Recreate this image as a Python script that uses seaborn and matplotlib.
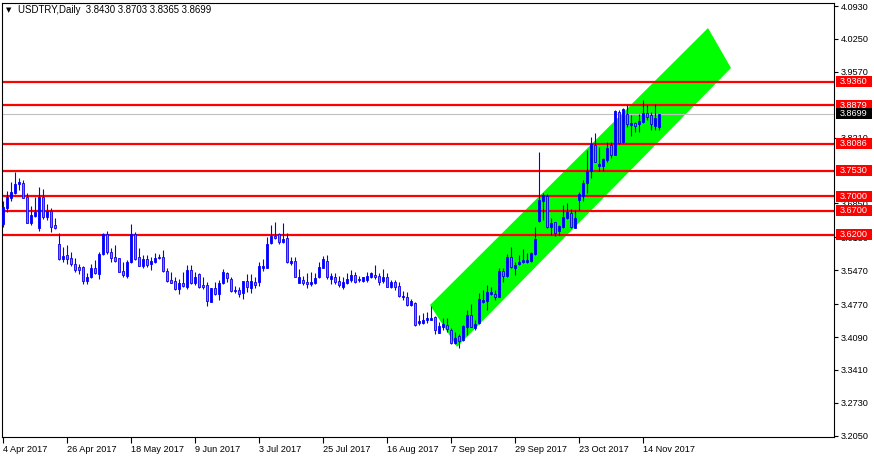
import numpy as np
import pandas as pd
import matplotlib
matplotlib.use("Agg")
import matplotlib.pyplot as plt
from matplotlib.patches import Rectangle
import seaborn as sns

# ---------------- data ----------------
start_date = "2017-04-04"
opens = [3.6419, 3.6763, 3.6970, 3.7066, 3.7259, 3.7266, 3.6991, 3.6454, 3.6598, 3.6350,
         3.6984, 3.6578, 3.6695, 3.6405, 3.6013, 3.5696, 3.5786, 3.5717, 3.5600, 3.5538,
         3.5538, 3.5255, 3.5324, 3.5510, 3.5400, 3.5799, 3.6219, 3.5841, 3.5737, 3.5717,
         3.5455, 3.5358, 3.5648, 3.6219, 3.5737, 3.5565, 3.5703, 3.5593, 3.5648, 3.5744,
         3.5737, 3.5455, 3.5269, 3.5248, 3.5083, 3.5207, 3.5131, 3.5476, 3.5200, 3.5386,
         3.5166, 3.5166, 3.4821, 3.5097, 3.4987, 3.5200, 3.5407, 3.5282, 3.5041, 3.5062,
         3.4993, 3.5248, 3.5110, 3.5227, 3.5234, 3.5523, 3.5523, 3.6026, 3.6177, 3.6219,
         3.6060, 3.6129, 3.5626, 3.5661, 3.5213, 3.5268, 3.5227, 3.5179, 3.5213, 3.5337,
         3.5523, 3.5668, 3.5296, 3.5337, 3.5241, 3.5131, 3.5213, 3.5268, 3.5372, 3.5268,
         3.5241, 3.5268, 3.5337, 3.5372, 3.5351, 3.5255, 3.5323, 3.5131, 3.5227, 3.5144,
         3.4910, 3.4910, 3.4745, 3.4786, 3.4387, 3.4387, 3.4442, 3.4449, 3.4497, 3.4180,
         3.4304, 3.4332, 3.4236, 3.3960, 3.4119, 3.4029, 3.4305, 3.4546, 3.4284, 3.4373,
         3.4821, 3.4842, 3.4979, 3.4972, 3.4924, 3.5455, 3.5358, 3.5737, 3.5524, 3.5592,
         3.5647, 3.5647, 3.5668, 3.5806, 3.6488, 3.6901, 3.7004, 3.6371, 3.6460, 3.6281,
         3.6371, 3.6556, 3.6646, 3.6350, 3.6922, 3.7004, 3.7266, 3.7521, 3.8058, 3.7624,
         3.7631, 3.7748, 3.8058, 3.7851, 3.8733, 3.8127, 3.8692, 3.8471, 3.8506, 3.8485,
         3.8540, 3.8712, 3.8678, 3.8457, 3.8430]
highs = [3.6901, 3.7108, 3.7301, 3.7507, 3.7370, 3.7335, 3.7060, 3.6798, 3.6991, 3.7190,
         3.7149, 3.6832, 3.6763, 3.6543, 3.6233, 3.5958, 3.5992, 3.5841, 3.5717, 3.5593,
         3.5565, 3.5407, 3.5593, 3.5682, 3.5841, 3.6233, 3.6281, 3.5923, 3.5992, 3.5731,
         3.5648, 3.5682, 3.6419, 3.6268, 3.5923, 3.5786, 3.5786, 3.5751, 3.5820, 3.5799,
         3.5889, 3.5524, 3.5427, 3.5338, 3.5290, 3.5427, 3.5579, 3.5579, 3.5427, 3.5407,
         3.5338, 3.5221, 3.5111, 3.5235, 3.5269, 3.5496, 3.5441, 3.5323, 3.5144, 3.5131,
         3.5255, 3.5392, 3.5392, 3.5337, 3.5647, 3.5695, 3.6164, 3.6405, 3.6460, 3.6233,
         3.6439, 3.6233, 3.5750, 3.5750, 3.5489, 3.5351, 3.5406, 3.5441, 3.5420, 3.5647,
         3.5764, 3.5785, 3.5420, 3.5406, 3.5351, 3.5337, 3.5406, 3.5475, 3.5441, 3.5351,
         3.5337, 3.5441, 3.5441, 3.5578, 3.5406, 3.5489, 3.5406, 3.5268, 3.5268, 3.5234,
         3.5048, 3.5027, 3.4869, 3.4821, 3.4545, 3.4593, 3.4614, 3.4731, 3.4525, 3.4408,
         3.4476, 3.4476, 3.4270, 3.4201, 3.4146, 3.4339, 3.4649, 3.4766, 3.4442, 3.4993,
         3.5062, 3.5165, 3.5131, 3.5062, 3.5510, 3.5510, 3.5799, 3.5957, 3.5647, 3.5785,
         3.5909, 3.5820, 3.5854, 3.6357, 3.7920, 3.7059, 3.7039, 3.6543, 3.6474, 3.6405,
         3.6818, 3.6853, 3.6736, 3.6715, 3.7080, 3.7335, 3.7955, 3.8230, 3.8299, 3.8024,
         3.7796, 3.8127, 3.8127, 3.8781, 3.8781, 3.8816, 3.8884, 3.8678, 3.8540, 3.8692,
         3.8988, 3.8884, 3.8747, 3.8898, 3.8703]
lows = [3.6371, 3.6681, 3.6901, 3.7039, 3.7128, 3.6956, 3.6440, 3.6405, 3.6578, 3.6281,
        3.6529, 3.6509, 3.6268, 3.6323, 3.5682, 3.5648, 3.5593, 3.5558, 3.5427, 3.5386,
        3.5179, 3.5186, 3.5303, 3.5386, 3.5290, 3.5786, 3.5799, 3.5648, 3.5648, 3.5441,
        3.5338, 3.5317, 3.5627, 3.5682, 3.5558, 3.5524, 3.5545, 3.5476, 3.5613, 3.5703,
        3.5441, 3.5235, 3.5200, 3.5062, 3.4980, 3.5131, 3.5083, 3.5179, 3.5166, 3.5111,
        3.5083, 3.4739, 3.4808, 3.4959, 3.4856, 3.5179, 3.5235, 3.5027, 3.5007, 3.4910,
        3.4883, 3.5027, 3.5007, 3.5096, 3.5144, 3.5461, 3.5523, 3.6012, 3.6109, 3.6005,
        3.6040, 3.5626, 3.5578, 3.5323, 3.5213, 3.5165, 3.5096, 3.5144, 3.5186, 3.5303,
        3.5509, 3.5282, 3.5186, 3.5186, 3.5131, 3.5089, 3.5186, 3.5234, 3.5199, 3.5234,
        3.5234, 3.5234, 3.5303, 3.5282, 3.5165, 3.5199, 3.5117, 3.5096, 3.5062, 3.4910,
        3.4855, 3.4731, 3.4731, 3.4318, 3.4339, 3.4359, 3.4387, 3.4442, 3.4153, 3.4180,
        3.4235, 3.4201, 3.3940, 3.3940, 3.3871, 3.4008, 3.4132, 3.4291, 3.4236, 3.4353,
        3.4787, 3.4649, 3.4959, 3.4856, 3.4924, 3.5234, 3.5338, 3.5510, 3.5372, 3.5579,
        3.5613, 3.5613, 3.5647, 3.5785, 3.6474, 3.6508, 3.6350, 3.6198, 3.6178, 3.6198,
        3.6350, 3.6529, 3.6336, 3.6336, 3.6715, 3.6901, 3.7059, 3.7383, 3.7700, 3.7521,
        3.7521, 3.7714, 3.7796, 3.7851, 3.8072, 3.8092, 3.8437, 3.8251, 3.8333, 3.8320,
        3.8506, 3.8574, 3.8368, 3.8368, 3.8365]
closes = [3.6784, 3.6991, 3.7080, 3.7246, 3.7301, 3.6970, 3.6454, 3.6612, 3.6681, 3.6991,
          3.6578, 3.6695, 3.6371, 3.6350, 3.5696, 3.5765, 3.5710, 3.5593, 3.5469, 3.5482,
          3.5255, 3.5331, 3.5510, 3.5407, 3.5799, 3.6219, 3.5841, 3.5717, 3.5662, 3.5441,
          3.5372, 3.5648, 3.6219, 3.5703, 3.5565, 3.5703, 3.5579, 3.5662, 3.5717, 3.5731,
          3.5462, 3.5255, 3.5214, 3.5076, 3.5200, 3.5138, 3.5476, 3.5200, 3.5338, 3.5131,
          3.5124, 3.4842, 3.5097, 3.4973, 3.5200, 3.5427, 3.5303, 3.5048, 3.5062, 3.4979,
          3.5248, 3.5117, 3.5248, 3.5172, 3.5558, 3.5558, 3.6012, 3.6177, 3.6129, 3.6060,
          3.6115, 3.5647, 3.5668, 3.5337, 3.5337, 3.5213, 3.5179, 3.5227, 3.5303, 3.5544,
          3.5695, 3.5323, 3.5351, 3.5234, 3.5165, 3.5227, 3.5282, 3.5372, 3.5234, 3.5282,
          3.5323, 3.5351, 3.5420, 3.5323, 3.5234, 3.5323, 3.5131, 3.5234, 3.5131, 3.4938,
          3.4938, 3.4745, 3.4841, 3.4339, 3.4428, 3.4442, 3.4483, 3.4483, 3.4235, 3.4318,
          3.4359, 3.4249, 3.3960, 3.4063, 3.4008, 3.4318, 3.4546, 3.4305, 3.4353, 3.4876,
          3.4856, 3.5014, 3.5014, 3.4924, 3.5455, 3.5358, 3.5751, 3.5544, 3.5579, 3.5634,
          3.5675, 3.5682, 3.5820, 3.6116, 3.6922, 3.7025, 3.6371, 3.6446, 3.6233, 3.6384,
          3.6563, 3.6667, 3.6357, 3.6543, 3.7039, 3.7266, 3.7521, 3.8072, 3.7714, 3.7665,
          3.7769, 3.8003, 3.7851, 3.8760, 3.8106, 3.8802, 3.8485, 3.8506, 3.8451, 3.8554,
          3.8712, 3.8643, 3.8485, 3.8623, 3.8699]

level_values = [3.9360, 3.8879, 3.8086, 3.7530, 3.7000, 3.6700, 3.6200]
current_price = 3.8699
# axis scale values (those fully covered by price labels in the reference are omitted)
ytick_values = [4.0930, 4.0250, 3.9570, 3.8210, 3.6850,
                3.6150, 3.5470, 3.4770, 3.4090, 3.3410, 3.2730, 3.2050]
xtick_labels = ["4 Apr 2017", "26 Apr 2017", "18 May 2017", "9 Jun 2017",
                "3 Jul 2017", "25 Jul 2017", "16 Aug 2017", "7 Sep 2017",
                "29 Sep 2017", "23 Oct 2017", "14 Nov 2017"]
xtick_step = 16
# channel corners (bar index, price)
channel_bar = [106.75, 113.5, 182.0, 176.25]
channel_price = [3.4752, 3.3885, 3.9649, 4.0475]
title_text = "USDTRY,Daily  3.8430 3.8703 3.8365 3.8699"

# ---------------- styling ----------------
sns.set_theme(style="white")
plt.rcParams["font.family"] = ["Liberation Sans", "DejaVu Sans"]
FS = 6.6
BULL = "#0000FF"
BEAR = "#F0642D"

df = pd.DataFrame({
    "date": pd.bdate_range(start_date, periods=len(closes)),
    "open": opens, "high": highs, "low": lows, "close": closes,
})
df["idx"] = np.arange(len(df))
df["bottom"] = df[["open", "close"]].min(axis=1)
df["height"] = (df["close"] - df["open"]).abs().clip(lower=0.0008)
df["bull"] = df["close"] >= df["open"]

W, H = 874, 459
fig = plt.figure(figsize=(W / 100, H / 100), dpi=100)
fig.patch.set_facecolor("white")
ax = fig.add_axes([2 / W, (H - 437) / H, 832 / W, 434 / H])
ax.set_facecolor("white")

# channel
ax.fill(channel_bar, channel_price, color="#00FF00", lw=0, zorder=1)

# levels
for v in level_values:
    ax.axhline(v, color="#FF0000", lw=1.6, zorder=2)
ax.axhline(current_price, color="#C0C0C0", lw=0.8, zorder=2)

# wicks
ax.vlines(df["idx"], df["low"], df["high"], color=BULL, lw=0.8, zorder=3)

# bodies (seaborn bars with floating bottoms)
bull = df[df["bull"]]
bear = df[~df["bull"]]
sns.barplot(data=bull, x="idx", y="height", native_scale=True, errorbar=None,
            width=0.72, color=BULL, saturation=1, bottom=bull["bottom"].values,
            edgecolor=BULL, linewidth=0.6, zorder=4, ax=ax)
sns.barplot(data=bear, x="idx", y="height", native_scale=True, errorbar=None,
            width=0.72, color=BEAR, saturation=1, bottom=bear["bottom"].values,
            edgecolor=BULL, linewidth=0.6, zorder=4, ax=ax)

ax.set_xlabel("")
ax.set_ylabel("")
ax.set_xlim(-0.25, 207.75)
ax.set_ylim(4.093 - 431 / 484, 4.093 + 3 / 484)

# y axis on the right
ax.yaxis.tick_right()
ax.set_yticks(ytick_values)
ax.set_yticklabels([f"{v:.4f}" for v in ytick_values])
ax.tick_params(axis="y", which="major", right=True, left=False, direction="out",
               length=3, width=0.8, pad=2, labelsize=FS, colors="black")

# x axis
ax.set_xticks(np.arange(len(xtick_labels)) * xtick_step)
ax.set_xticklabels(xtick_labels)
ax.tick_params(axis="x", which="major", bottom=True, direction="out",
               length=4, width=0.8, pad=2, labelsize=FS, colors="black")
for lab in ax.get_xticklabels():
    lab.set_ha("left")

for s in ax.spines.values():
    s.set_color("black")
    s.set_linewidth(0.8)
    s.set_visible(True)
ax.grid(False)

# price labels on the right (boxes sized in pixels, positioned via the data transform)
def price_label(v, fc):
    y = ax.transData.transform((0, v))[1]
    fig.patches.append(Rectangle((836, y - 5.5), 36, 11, transform=None,
                                 fc=fc, ec="none", zorder=10))
    fig.text(854 / W, y / H, f"{v:.4f}", ha="center", va="center",
             fontsize=FS, color="white", zorder=11)

for v in level_values:
    price_label(v, "#FF0000")
price_label(current_price, "black")

# title
fig.text(6 / W, 1 - 10 / H, "\u25BC", fontsize=5, color="black", va="center",
         ha="left", family="DejaVu Sans")
fig.text(18 / W, 1 - 10 / H, title_text, fontsize=FS + 0.3, color="black",
         va="center", ha="left")

fig.savefig("out.png", dpi=100, facecolor="white")
